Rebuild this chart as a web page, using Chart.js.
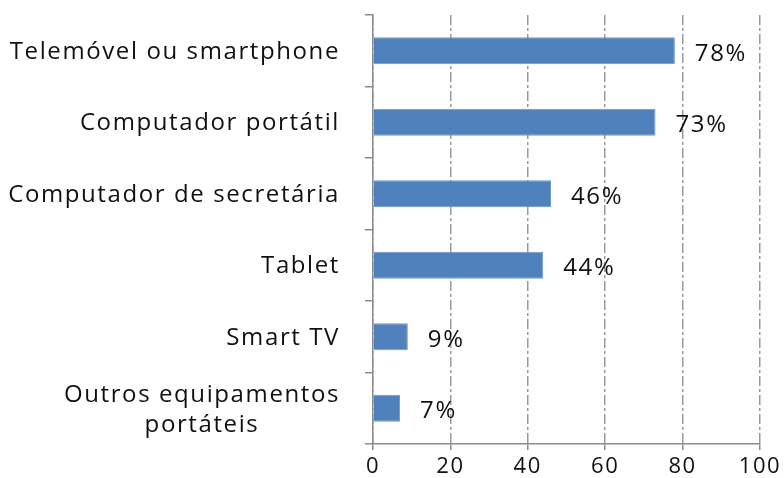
<!DOCTYPE html>
<html>
<head>
<meta charset="utf-8">
<script src="https://cdn.jsdelivr.net/npm/chart.js@4"></script>
<style>
  html, body { margin: 0; padding: 0; background: #fff; }
  #wrap { width: 784px; height: 478px; }
</style>
</head>
<body>
<div id="wrap"><canvas id="c" width="784" height="478"></canvas></div>
<script>
// Equipamentos usados — horizontal bars, % of respondents
const CATEGORIES = [
  ['Telemóvel ou smartphone'],
  ['Computador portátil'],
  ['Computador de secretária'],
  ['Tablet'],
  ['Smart TV'],
  ['Outros equipamentos', 'portáteis'],
];
const VALUES = [78, 73, 46, 44, 9, 7];
const X_MIN = 0, X_MAX = 100, X_STEP = 20;

const FONT = '"Open Sans", "DejaVu Sans", sans-serif';
const INK = '#111111';
const AXIS = '#8c8c8c';
const SPACING = '1.6px';

// wide letter spacing everywhere, like the original
const spacingPlugin = {
  id: 'spacing',
  beforeDraw(chart) { chart.ctx.letterSpacing = SPACING; },
};

// draws the category names (multi-line ones centred as a block) and the % labels
const labelsPlugin = {
  id: 'labels',
  afterDatasetsDraw(chart) {
    const { ctx } = chart;
    const y = chart.scales.y;
    const meta = chart.getDatasetMeta(0);
    ctx.save();
    ctx.letterSpacing = SPACING;
    ctx.fillStyle = INK;
    ctx.font = `24px ${FONT}`;
    ctx.textBaseline = 'middle';
    const right = chart.chartArea.left - 33;
    CATEGORIES.forEach((lines, i) => {
      const cy = y.getPixelForValue(i) + 1;
      const lh = 30;
      if (lines.length === 1) {
        ctx.textAlign = 'right';
        ctx.fillText(lines[0], right, cy);
      } else {
        const w = Math.max(...lines.map((l) => ctx.measureText(l).width));
        ctx.textAlign = 'center';
        lines.forEach((l, k) => ctx.fillText(l, right - w / 2, cy + 1 + (k - (lines.length - 1) / 2) * lh));
      }
    });
    ctx.textAlign = 'left';
    meta.data.forEach((bar, i) => {
      ctx.fillText(VALUES[i] + '%', bar.x + 20, bar.y + 3);
    });
    ctx.restore();
  },
};

new Chart(document.getElementById('c'), {
  type: 'bar',
  data: {
    labels: CATEGORIES.map((l) => l.join(' ')),
    datasets: [{
      data: VALUES,
      backgroundColor: '#4f81bd',
      borderColor: '#6f97c8',
      borderWidth: 1,
      borderSkipped: 'start',
      barPercentage: 0.38,
      categoryPercentage: 1,
    }],
  },
  options: {
    indexAxis: 'y',
    responsive: false,
    animation: false,
    layout: { padding: { top: 15, right: 24, bottom: 0, left: 0 } },
    plugins: { legend: { display: false }, tooltip: { enabled: false } },
    scales: {
      x: {
        min: X_MIN, max: X_MAX,
        ticks: { stepSize: X_STEP, color: INK, font: { family: FONT, size: 22 }, padding: 4 },
        grid: { color: '#9a9a9a', lineWidth: 1.5, tickColor: AXIS, tickLength: 6, tickBorderDash: [] },
        border: { color: AXIS, width: 1.5, dash: [10, 3, 3, 3] },
        afterFit(scale) { scale.height = 34; },
      },
      y: {
        offset: true,
        ticks: { display: false },
        grid: { offset: true, drawOnChartArea: false, color: AXIS, tickColor: AXIS, tickLength: 8, lineWidth: 1.5 },
        border: { color: AXIS, width: 1.5 },
        afterFit(scale) { scale.width = 373; },
      },
    },
  },
  plugins: [spacingPlugin, labelsPlugin],
});
</script>
</body>
</html>
